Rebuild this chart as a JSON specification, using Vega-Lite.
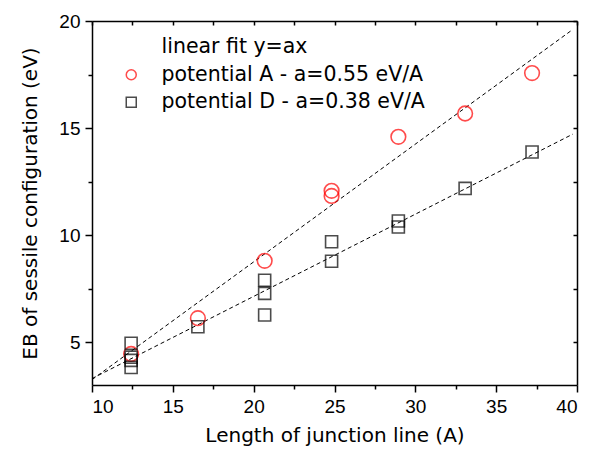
{
  "$schema": "https://vega.github.io/schema/vega-lite/v6.json",
  "width": 485,
  "height": 364,
  "autosize": {"type": "none"},
  "padding": {"left": 92, "top": 21, "right": 18, "bottom": 65},
  "background": "white",
  "config": {
    "view": {"stroke": null},
    "font": "Liberation Sans",
    "axis": {
      "grid": false,
      "domainColor": "black",
      "domainWidth": 1.5,
      "tickColor": "black",
      "tickWidth": 1.5,
      "labelColor": "black",
      "titleColor": "black",
      "labelFont": "Liberation Sans",
      "labelFontSize": 19,
      "titleFont": "DejaVu Sans",
      "titleFontSize": 20,
      "titleFontWeight": "normal"
    },
    "legend": {
      "orient": "none",
      "legendX": 29,
      "legendY": 16,
      "padding": 0,
      "labelFont": "DejaVu Sans",
      "labelFontSize": 20.5,
      "labelColor": "black",
      "labelLimit": 400,
      "labelOffset": 20,
      "rowPadding": 6.5,
      "symbolSize": 100,
      "symbolStrokeWidth": 1.5,
      "symbolFillColor": "transparent"
    }
  },
  "datasets": {
    "pts": [
      {"series": "potential A - a=0.55 eV/A", "x": 12.42, "y": 4.45},
      {"series": "potential A - a=0.55 eV/A", "x": 16.55, "y": 6.12},
      {"series": "potential A - a=0.55 eV/A", "x": 20.68, "y": 8.80},
      {"series": "potential A - a=0.55 eV/A", "x": 24.82, "y": 12.07},
      {"series": "potential A - a=0.55 eV/A", "x": 24.82, "y": 11.83},
      {"series": "potential A - a=0.55 eV/A", "x": 28.95, "y": 14.59},
      {"series": "potential A - a=0.55 eV/A", "x": 33.08, "y": 15.68},
      {"series": "potential A - a=0.55 eV/A", "x": 37.22, "y": 17.57},
      {"series": "potential D - a=0.38 eV/A", "x": 12.42, "y": 4.95},
      {"series": "potential D - a=0.38 eV/A", "x": 12.42, "y": 4.30},
      {"series": "potential D - a=0.38 eV/A", "x": 12.42, "y": 4.15},
      {"series": "potential D - a=0.38 eV/A", "x": 12.42, "y": 3.82},
      {"series": "potential D - a=0.38 eV/A", "x": 16.55, "y": 5.72},
      {"series": "potential D - a=0.38 eV/A", "x": 20.68, "y": 7.89},
      {"series": "potential D - a=0.38 eV/A", "x": 20.68, "y": 7.28},
      {"series": "potential D - a=0.38 eV/A", "x": 20.68, "y": 6.27},
      {"series": "potential D - a=0.38 eV/A", "x": 24.82, "y": 9.69},
      {"series": "potential D - a=0.38 eV/A", "x": 24.82, "y": 8.78},
      {"series": "potential D - a=0.38 eV/A", "x": 28.95, "y": 10.66},
      {"series": "potential D - a=0.38 eV/A", "x": 28.95, "y": 10.38},
      {"series": "potential D - a=0.38 eV/A", "x": 33.08, "y": 12.18},
      {"series": "potential D - a=0.38 eV/A", "x": 37.22, "y": 13.88}
    ],
    "fits": [
      {"fit": "A", "x": 10, "y": 3.25},
      {"fit": "A", "x": 39.75, "y": 19.61},
      {"fit": "D", "x": 10, "y": 3.30},
      {"fit": "D", "x": 39.75, "y": 14.72}
    ]
  },
  "layer": [
    {
      "data": {"name": "fits"},
      "mark": {"type": "line", "color": "black", "strokeWidth": 1, "strokeDash": [4, 3], "clip": true},
      "encoding": {
        "x": {
          "field": "x", "type": "quantitative",
          "scale": {"domain": [10, 40], "nice": false, "zero": false},
          "axis": {"orient": "bottom", "values": [10, 15, 20, 25, 30, 35, 40], "tickSize": 7, "labelPadding": 5, "title": "Length of junction line (A)", "titlePadding": 9}
        },
        "y": {
          "field": "y", "type": "quantitative",
          "scale": {"domain": [3, 20], "nice": false, "zero": false},
          "axis": {"orient": "left", "values": [5, 10, 15, 20], "tickSize": 7, "labelPadding": 5, "title": "EB of sessile configuration (eV)", "titlePadding": 18}
        },
        "detail": {"field": "fit"}
      }
    },
    {
      "data": {"name": "pts"},
      "transform": [{"filter": "datum.series === 'potential A - a=0.55 eV/A'"}],
      "mark": {"type": "point", "filled": false, "strokeWidth": 1.6, "size": 215, "clip": true},
      "encoding": {
        "x": {
          "field": "x", "type": "quantitative",
          "axis": {"orient": "bottom", "values": [12.5, 17.5, 22.5, 27.5, 32.5, 37.5], "tickSize": 4, "labels": false, "domain": false, "title": null}
        },
        "y": {
          "field": "y", "type": "quantitative",
          "axis": {"orient": "left", "values": [7.5, 12.5, 17.5], "tickSize": 4, "labels": false, "domain": false, "title": null}
        },
        "stroke": {
          "field": "series", "type": "nominal",
          "scale": {"domain": ["linear fit y=ax", "potential A - a=0.55 eV/A", "potential D - a=0.38 eV/A"], "range": ["transparent", "#ff0000", "#000000"]},
          "legend": {"title": null}
        },
        "shape": {
          "field": "series", "type": "nominal",
          "scale": {"domain": ["linear fit y=ax", "potential A - a=0.55 eV/A", "potential D - a=0.38 eV/A"], "range": ["circle", "circle", "square"]},
          "legend": {"title": null}
        }
      }
    },
    {
      "data": {"name": "pts"},
      "transform": [{"filter": "datum.series === 'potential D - a=0.38 eV/A'"}],
      "mark": {"type": "point", "filled": false, "strokeWidth": 1.6, "size": 145, "clip": true},
      "encoding": {
        "x": {
          "field": "x", "type": "quantitative",
          "axis": {"orient": "top", "values": [10, 12.5, 15, 17.5, 20, 22.5, 25, 27.5, 30, 32.5, 35, 37.5, 40], "tickSize": -4, "labels": false, "title": null}
        },
        "y": {
          "field": "y", "type": "quantitative",
          "axis": {"orient": "right", "values": [5, 7.5, 10, 12.5, 15, 17.5, 20], "tickSize": -4, "labels": false, "title": null}
        },
        "stroke": {
          "field": "series", "type": "nominal",
          "legend": {"title": null}
        },
        "shape": {
          "field": "series", "type": "nominal",
          "legend": {"title": null}
        }
      }
    }
  ],
  "resolve": {"axis": {"x": "independent", "y": "independent"}}
}
